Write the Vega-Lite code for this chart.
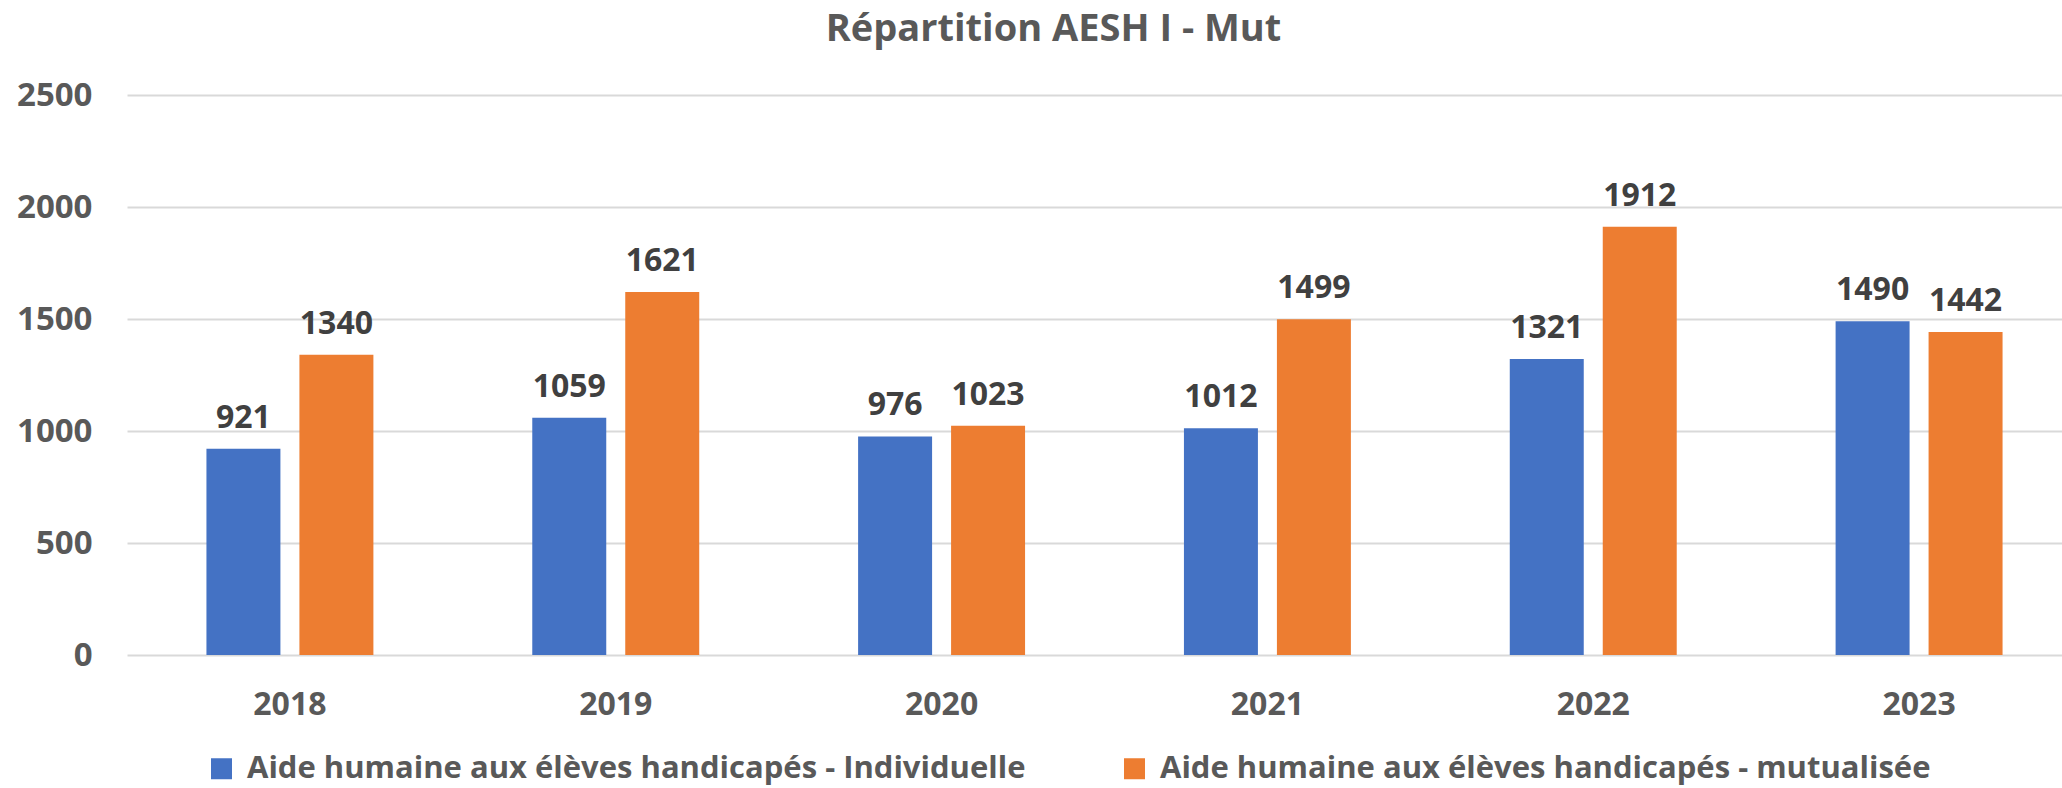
{
  "$schema": "https://vega.github.io/schema/vega-lite/v6.json",
  "width": 1935,
  "height": 560,
  "autosize": {"type": "none"},
  "padding": {"left": 127, "top": 95, "right": 0, "bottom": 133},
  "background": "white",
  "config": {"view": {"stroke": null}},
  "title": {
    "text": "Répartition AESH I - Mut",
    "font": "Open Sans",
    "fontSize": 38,
    "fontWeight": "bold",
    "color": "#595959",
    "anchor": "middle",
    "frame": "group",
    "dx": -41,
    "offset": 30
  },
  "data": {
    "values": [
      {"year": "2018", "series": "Aide humaine aux élèves handicapés - Individuelle", "value": 921},
      {"year": "2018", "series": "Aide humaine aux élèves handicapés - mutualisée", "value": 1340},
      {"year": "2019", "series": "Aide humaine aux élèves handicapés - Individuelle", "value": 1059},
      {"year": "2019", "series": "Aide humaine aux élèves handicapés - mutualisée", "value": 1621},
      {"year": "2020", "series": "Aide humaine aux élèves handicapés - Individuelle", "value": 976},
      {"year": "2020", "series": "Aide humaine aux élèves handicapés - mutualisée", "value": 1023},
      {"year": "2021", "series": "Aide humaine aux élèves handicapés - Individuelle", "value": 1012},
      {"year": "2021", "series": "Aide humaine aux élèves handicapés - mutualisée", "value": 1499},
      {"year": "2022", "series": "Aide humaine aux élèves handicapés - Individuelle", "value": 1321},
      {"year": "2022", "series": "Aide humaine aux élèves handicapés - mutualisée", "value": 1912},
      {"year": "2023", "series": "Aide humaine aux élèves handicapés - Individuelle", "value": 1490},
      {"year": "2023", "series": "Aide humaine aux élèves handicapés - mutualisée", "value": 1442}
    ]
  },
  "encoding": {
    "x": {
      "field": "year",
      "type": "nominal",
      "scale": {"range": [0, 1955], "paddingInner": 0.4876, "paddingOuter": 0.2438},
      "axis": {
        "title": null,
        "labelAngle": 0,
        "ticks": false,
        "domain": false,
        "grid": false,
        "labelPadding": 34,
        "labelFont": "Open Sans",
        "labelFontSize": 32,
        "labelFontWeight": "bold",
        "labelColor": "#595959"
      }
    },
    "xOffset": {
      "field": "series",
      "type": "nominal",
      "scale": {"paddingInner": 0.2043, "paddingOuter": 0}
    },
    "y": {
      "field": "value",
      "type": "quantitative",
      "scale": {"domain": [0, 2500]},
      "axis": {
        "title": null,
        "values": [0, 500, 1000, 1500, 2000, 2500],
        "format": "d",
        "grid": true,
        "gridColor": "#d9d9d9",
        "gridWidth": 2,
        "domain": false,
        "ticks": false,
        "labelPadding": 35,
        "labelFont": "Open Sans",
        "labelFontSize": 33,
        "labelFontWeight": "bold",
        "labelColor": "#595959"
      }
    }
  },
  "layer": [
    {
      "mark": {"type": "bar"},
      "encoding": {
        "color": {
          "field": "series",
          "type": "nominal",
          "scale": {
            "domain": ["Aide humaine aux élèves handicapés - Individuelle", "Aide humaine aux élèves handicapés - mutualisée"],
            "range": ["#4472C4", "#ED7D31"]
          },
          "legend": {
            "title": null,
            "orient": "none",
            "legendX": 79,
            "legendY": 658,
            "direction": "horizontal",
            "symbolType": "square",
            "symbolSize": 441,
            "symbolStrokeWidth": 0,
            "symbolOpacity": 1,
            "labelOffset": 10,
            "columnPadding": 93,
            "labelFont": "Open Sans",
            "labelFontSize": 31,
            "labelFontWeight": "bold",
            "labelColor": "#595959",
            "labelLimit": 0
          }
        }
      }
    },
    {
      "mark": {
        "type": "text",
        "baseline": "alphabetic",
        "dy": -21,
        "font": "Open Sans",
        "fontSize": 32,
        "fontWeight": "bold",
        "color": "#404040"
      },
      "encoding": {
        "text": {"field": "value", "type": "quantitative", "format": "d"}
      }
    }
  ]
}
